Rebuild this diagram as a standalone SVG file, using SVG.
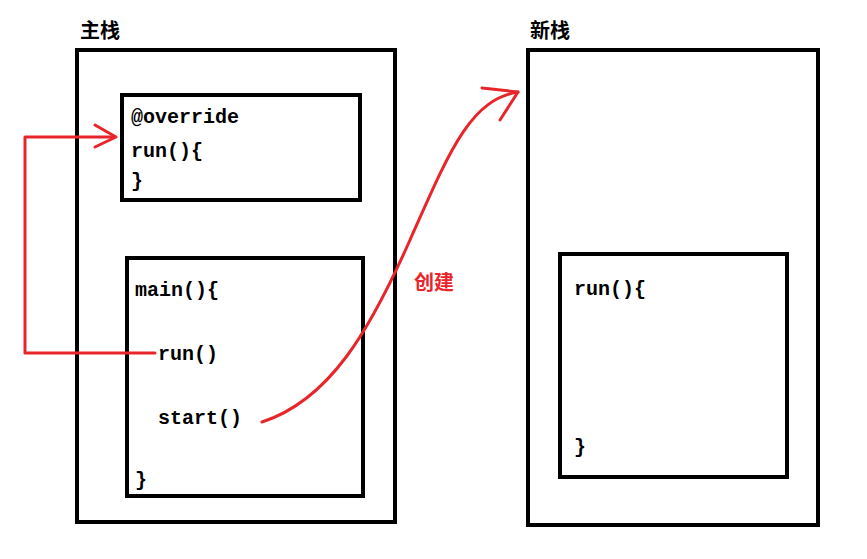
<svg xmlns="http://www.w3.org/2000/svg" width="867" height="559" viewBox="0 0 867 559">
<style>
.box{fill:none;stroke:#000;stroke-width:4}
.t{font-family:"Liberation Mono","DejaVu Sans Mono",monospace;font-size:20px;font-weight:bold;fill:#000}
.h{font-family:"Noto Sans CJK SC",sans-serif;font-size:20px;font-weight:bold;fill:#000}
.c{fill:none;stroke:#e8262a;stroke-width:3;stroke-linecap:round;stroke-linejoin:round}
</style>
<rect width="867" height="559" fill="#fff"/>
<g id="main-stack"><text class="h" x="80" y="38">主栈</text><rect class="box" x="77" y="50" width="318" height="472"/></g>
<g id="override"><rect class="box" x="122" y="95" width="238" height="105"/>
<text class="t" x="131" y="123">@override</text><text class="t" x="131" y="157">run(){</text><text class="t" x="131" y="187">}</text></g>
<g id="main"><rect class="box" x="127" y="258" width="236" height="238"/>
<text class="t" x="135" y="296">main(){</text><text class="t" x="158" y="360">run()</text><text class="t" x="158" y="424">start()</text><text class="t" x="135" y="486">}</text></g>
<g id="new-stack"><text class="h" x="530" y="38">新栈</text><rect class="box" x="528" y="50" width="290" height="475"/></g>
<g id="newrun"><rect class="box" x="560" y="254" width="227" height="223"/>
<text class="t" x="574" y="295">run(){</text><text class="t" x="574" y="453">}</text></g>
<g id="connectors">
<polyline class="c" points="155,353 25,353 25,137 115,137"/>
<polyline class="c" points="95,125 116,137 95,147"/>
<path class="c" d="M262,422 C330,400 370,330 410,240 C450,150 470,100 518,92"/>
<polyline class="c" points="482,88 518,92 500,120"/>
<text x="414" y="290" font-family="Noto Sans CJK SC,sans-serif" font-size="20" font-weight="bold" fill="#e8262a">创建</text>
</g>
</svg>
